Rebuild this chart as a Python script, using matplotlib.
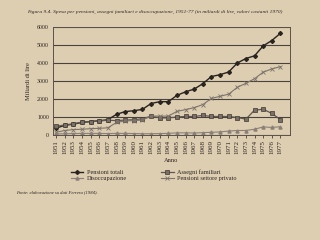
import numpy as np
import matplotlib
matplotlib.use("Agg")
import matplotlib.pyplot as plt

plt.rcParams['font.family'] = ['Liberation Serif', 'DejaVu Serif']

anni = list(range(1951, 1978))

pensioni_totali = [380, 540, 600, 700, 750, 790, 850, 1150, 1300, 1350, 1420, 1750, 1850,
                   1850, 2200, 2400, 2550, 2850, 3250, 3350, 3500, 4000, 4250, 4400, 4950,
                   5250, 5650]
assegni_familiari = [480, 560, 620, 720, 740, 780, 820, 800, 830, 850, 900, 1050, 950,
                     950, 1000, 1030, 1030, 1090, 1030, 1030, 1030, 970, 880, 1380, 1430,
                     1200, 860]
pensioni_privato = [150, 250, 300, 320, 350, 370, 400, 700, 780, 800, 830, 1050, 1050,
                    1050, 1310, 1410, 1520, 1690, 2030, 2150, 2270, 2650, 2870, 3130, 3490,
                    3670, 3800]
disoccupazione = [60, 70, 80, 90, 90, 90, 80, 90, 90, 80, 70, 70, 80, 90, 120, 120, 110,
                  130, 150, 170, 220, 250, 250, 320, 450, 420, 460]

y_ticks = [0, 1000, 2000, 3000, 4000, 5000, 6000]

bg = '#ddceb2'
ink = '#2a2420'

fig = plt.figure(figsize=(3.2, 2.4), dpi=100, facecolor=bg)
ax = fig.add_axes([0.166, 0.4375, 0.74, 0.45], facecolor=bg)

ax.plot(anni, pensioni_totali, color=ink, lw=1.0, marker='D', ms=2.0, label='Pensioni totali')
ax.plot(anni, assegni_familiari, color='#5e5650', lw=0.9, marker='s', ms=2.8,
        mfc='#7a7068', mec='#3e3630', mew=0.5, label='Assegni familiari')
ax.plot(anni, pensioni_privato, color='#7d736b', lw=0.8, marker='x', ms=2.4, mew=0.6,
        label='Pensioni settore privato')
ax.plot(anni, disoccupazione, color='#8a8078', lw=0.8, marker='^', ms=2.2,
        label='Disoccupazione')

ax.set_xlim(1950.65, 1978.1)
ax.set_ylim(0, 6000)
ax.set_yticks(y_ticks)
ax.set_yticklabels([str(v) for v in y_ticks], fontsize=4.2, color=ink)
ax.set_xticks(anni)
ax.set_xticklabels([str(a) for a in anni], rotation=90, fontsize=5, color=ink)
ax.tick_params(axis='x', length=2, width=0.5, pad=1.5, colors=ink)
ax.tick_params(axis='y', length=0, pad=3)
ax.grid(axis='y', color='#4a423c', lw=0.8)
for s in ax.spines.values():
    s.set_color('#5a524a')
    s.set_linewidth(0.7)

ax.set_ylabel('Miliardi di lire', fontsize=4.6, color=ink, labelpad=4)
ax.set_xlabel('Anno', fontsize=4.6, color=ink, labelpad=3)

fig.text(0.085, 0.95, 'Figura 9.4. Spesa per pensioni, assegni familiari e disoccupazione, '
         '1951-77 (in miliardi di lire, valori costanti 1970)',
         fontsize=3.85, style='italic', color=ink, va='center')

handles, labels = ax.get_legend_handles_labels()
order = [0, 3, 1, 2]
fig.legend([handles[i] for i in order], [labels[i] for i in order], ncol=2,
           loc='center', bbox_to_anchor=(0.48, 0.27), frameon=False, fontsize=4.5,
           handlelength=2.0, handletextpad=0.5, columnspacing=5.5, labelspacing=0.15,
           labelcolor=ink)

fig.text(0.05, 0.2, 'Fonte: elaborazione su dati Ferrera (1984).', fontsize=3.3,
         style='italic', color=ink, va='center')

fig.savefig('out.png', dpi=100, facecolor=bg)
